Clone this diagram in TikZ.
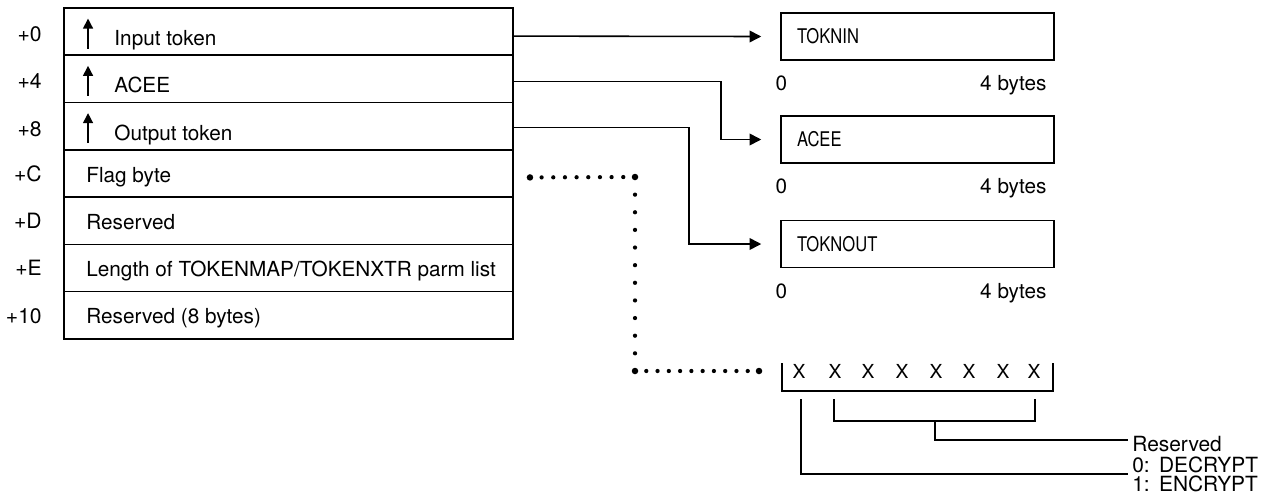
\documentclass[tikz,border=0pt]{standalone}
\usepackage{fontspec}
\setmainfont{TeX Gyre Heros}
\newfontfamily\narrowfont[FakeStretch=0.82]{TeX Gyre Heros}
\usetikzlibrary{arrows.meta,positioning}

\tikzset{
  field/.style={draw, line width=0.9pt, minimum width=8.98cm, minimum height=0.9457cm, inner sep=0pt, outer sep=0pt},
  ftext/.style={anchor=base west, inner sep=0pt, font=\fontsize{11.8}{14}\selectfont},
  offs/.style={anchor=base east, inner sep=0pt, font=\fontsize{12}{14}\selectfont},
  ptrup/.style={line width=0.8pt, -{Triangle[length=0.2cm, width=0.2cm]}},
  ptr/.style={line width=0.9pt, -{Triangle[length=0.234cm, width=0.234cm]}},
  area/.style={draw, line width=0.9pt, minimum width=5.46cm, minimum height=0.94cm, text width=4.82cm, inner xsep=0.32cm, align=left, font=\narrowfont\fontsize{11.5}{13}\selectfont},
  size/.style={inner sep=0pt, font=\fontsize{11.8}{14}\selectfont},
  bit/.style={anchor=base, inner sep=0pt, font=\fontsize{11}{13}\selectfont},
  meaning/.style={anchor=base west, inner sep=0pt, font=\fontsize{11.9}{14}\selectfont},
  wire/.style={line width=0.9pt},
  dots/.style={line width=0.085cm, line cap=round, dash pattern=on 0pt off #1},
  bigdot/.style={fill, radius=0.065cm}
}

\begin{document}
\begin{tikzpicture}[x=0.02cm, y=-0.02cm]
    \useasboundingbox (0,0) rectangle (1273,501);

    % parameter list
    \node[field] (r0) at (288.5,31.6) {};
    \node[field, below=0pt of r0] (r1) {};
    \node[field, below=0pt of r1] (r2) {};
    \node[field, below=0pt of r2] (r3) {};
    \node[field, below=0pt of r3] (r4) {};
    \node[field, below=0pt of r4] (r5) {};
    \node[field, below=0pt of r5] (r6) {};

    % offsets
    \node[offs] at ([xshift=-0.44cm, yshift=-0.2cm]r0.west) {+0};
    \node[offs] at ([xshift=-0.44cm, yshift=-0.2cm]r1.west) {+4};
    \node[offs] at ([xshift=-0.44cm, yshift=-0.2cm]r2.west) {+8};
    \node[offs] at ([xshift=-0.44cm, yshift=-0.16cm]r3.west) {+C};
    \node[offs] at ([xshift=-0.44cm, yshift=-0.16cm]r4.west) {+D};
    \node[offs] at ([xshift=-0.44cm, yshift=-0.16cm]r5.west) {+E};
    \node[offs] at ([xshift=-0.44cm, yshift=-0.16cm]r6.west) {+10};

    % field contents
    \foreach \r in {r0,r1,r2}
        \draw[ptrup] ([xshift=0.48cm, yshift=-0.34cm]\r.west) -- ++(0,-30);
    \node[ftext] at ([xshift=1.0cm, yshift=-0.28cm]r0.west) {Input token};
    \node[ftext] at ([xshift=1.0cm, yshift=-0.28cm]r1.west) {ACEE};
    \node[ftext] at ([xshift=1.0cm, yshift=-0.28cm]r2.west) {Output token};
    \node[ftext] at ([xshift=0.44cm, yshift=-0.19cm]r3.west) {Flag byte};
    \node[ftext] at ([xshift=0.44cm, yshift=-0.17cm]r4.west) {Reserved};
    \node[ftext] at ([xshift=0.44cm, yshift=-0.17cm]r5.west) {Length of TOKENMAP/TOKENXTR parm list};
    \node[ftext] at ([xshift=0.44cm, yshift=-0.17cm]r6.west) {Reserved (8 bytes)};

    % pointed-to areas
    \node[area] (tokin) at (917.5,36.5) {TOKNIN};
    \node[area] (acee) at (917.5,139.5) {ACEE};
    \node[area] (tokout) at (917.5,244) {TOKNOUT};
    \foreach \a in {tokin,acee,tokout} {
        \node[size, anchor=base west] at ([xshift=-0.1cm, yshift=-0.6cm]\a.south west) {0};
        \node[size, anchor=base east] at ([xshift=-0.16cm, yshift=-0.6cm]\a.south east) {4 bytes};
    }

    \draw[ptr] ([yshift=-0.09cm]r0.east) -- ([xshift=-0.38cm]tokin.west);
    \draw[ptr] ([yshift=-0.05cm]r1.east) -- ++(208,0) |- ([xshift=-0.38cm]acee.west);
    \draw[ptr] ([yshift=-0.03cm]r2.east) -- ++(176,0) |- ([xshift=-0.38cm]tokout.west);

    % flag byte bits
    \node[bit] (b0) at (799,378.3) {X};
    \node[bit] (b1) at (835,378.3) {X};
    \node[bit] (b2) at (868,378.3) {X};
    \node[bit] (b3) at (902,378.3) {X};
    \node[bit] (b4) at (936,378.3) {X};
    \node[bit] (b5) at (969,378.3) {X};
    \node[bit] (b6) at (1003,378.3) {X};
    \node[bit] (b7) at (1034,378.3) {X};
    \draw[wire] (782,363) -- (782,391) -- (1053,391) -- (1053,363);
    \draw[wire] (834,399) -- (834,421) -- (1035,421) -- (1035,399);

    \node[meaning] (res) at (1132,451.7) {Reserved};
    \node[meaning] (dec) at (1132,472.7) {0:\ \,DECRYPT};
    \node[meaning] (enc) at (1132,491.7) {1:\ \,ENCRYPT};
    \draw[wire] (935,421) |- ([xshift=-0.08cm, yshift=0.08cm]res.west);
    \draw[wire] (801,399) |- ([xshift=-0.08cm, yshift=-0.02cm]dec.base west);

    % dotted link from flag byte
    \coordinate (fl) at ([xshift=0.34cm, yshift=-0.08cm]r3.east);
    \coordinate (fc1) at (635,177);
    \coordinate (fc2) at (635,371);
    \coordinate (fe) at (759,371);
    \draw[dots=0.2333cm] (fl) -- (fc1);
    \draw[dots=0.3527cm] (fc1) -- (fc2);
    \draw[dots=0.2255cm] (fc2) -- (fe);
    \foreach \p in {fl,fc1,fc2,fe}
        \fill[bigdot] (\p) circle;
\end{tikzpicture}
\end{document}
